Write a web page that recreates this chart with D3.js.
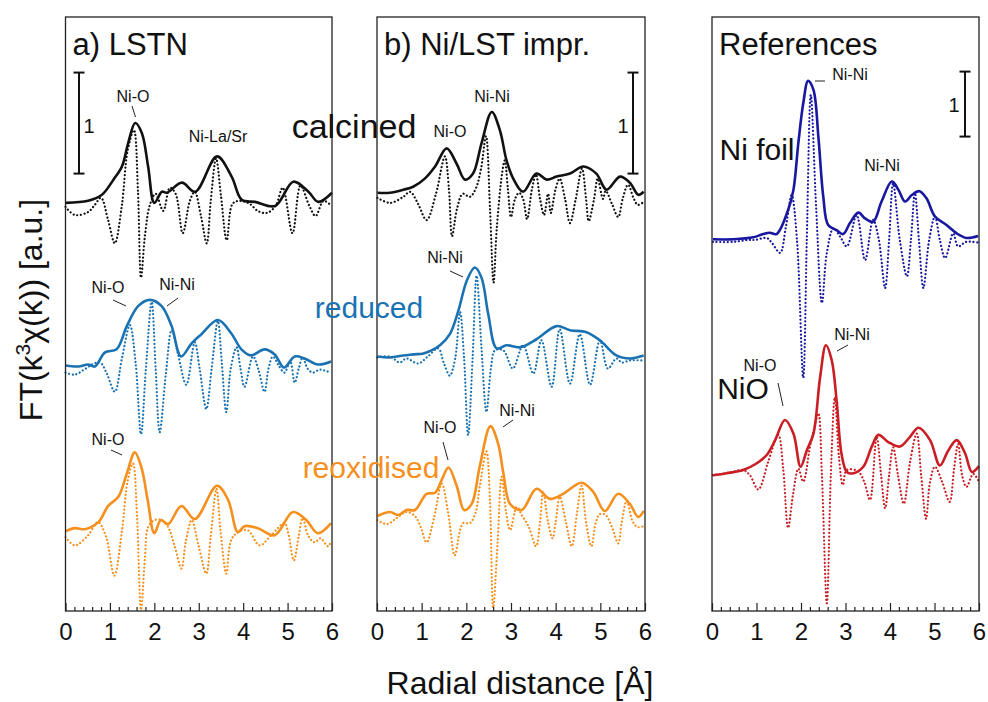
<!DOCTYPE html>
<html>
<head>
<meta charset="utf-8">
<script src="https://cdn.jsdelivr.net/npm/d3@7"></script>
<style>
body { margin: 0; background: #fff; }
text { font-family: "Liberation Sans", Arial, sans-serif; fill: #111; }
</style>
</head>
<body>
<svg id="chart" width="988" height="702"></svg>
<script>
// ---- data: [R (Angstrom), FT value (a.u.)], magnitude (solid) and imaginary part (dotted) ----
var lstnCalcinedMag = [[0.00,0.03],[0.51,0.05],[0.82,0.11],[1.08,0.26],[1.27,0.39],[1.41,0.62],[1.57,0.82],[1.72,0.72],[1.86,0.39],[2.00,0.03],[2.17,0.14],[2.28,0.13],[2.62,0.23],[2.92,0.14],[3.41,0.49],[3.74,0.29],[3.97,0.06],[4.27,0.04],[4.72,0.00],[5.13,0.24],[5.47,0.14],[5.69,0.04],[6.00,0.13]];
var lstnCalcinedIm = [[0.00,-0.01],[0.21,-0.09],[0.51,-0.06],[0.66,0.01],[0.80,0.08],[0.96,-0.14],[1.11,-0.37],[1.27,0.01],[1.40,0.55],[1.54,0.75],[1.63,0.16],[1.70,-0.71],[1.79,-0.29],[1.90,0.01],[2.03,0.12],[2.20,-0.05],[2.35,0.18],[2.48,0.12],[2.64,-0.27],[2.80,0.05],[2.91,0.14],[3.05,-0.10],[3.18,-0.37],[3.27,0.05],[3.39,0.47],[3.50,0.10],[3.63,-0.34],[3.76,0.02],[3.92,0.05],[4.15,0.02],[4.33,-0.05],[4.53,-0.07],[4.73,0.00],[4.89,0.18],[5.11,-0.27],[5.29,0.20],[5.49,0.00],[5.63,-0.10],[5.81,0.05],[5.99,0.00]];
var lstnReducedMag = [[0.00,0.03],[0.29,0.02],[0.51,0.04],[0.66,0.02],[0.89,0.16],[1.15,0.19],[1.38,0.42],[1.64,0.62],[1.90,0.68],[2.16,0.62],[2.39,0.42],[2.60,0.12],[2.84,0.25],[3.06,0.34],[3.43,0.48],[3.73,0.35],[3.96,0.19],[4.18,0.13],[4.48,0.19],[4.71,0.14],[4.92,0.01],[5.16,0.12],[5.38,0.10],[5.68,0.04],[5.98,0.07]];
var lstnReducedIm = [[0.00,-0.04],[0.21,-0.06],[0.42,-0.01],[0.60,0.04],[0.78,0.06],[0.93,-0.05],[1.11,-0.23],[1.27,0.10],[1.45,0.43],[1.58,0.05],[1.70,-0.65],[1.81,0.00],[1.94,0.66],[2.03,0.00],[2.12,-0.63],[2.26,-0.05],[2.39,0.38],[2.53,0.15],[2.72,-0.16],[2.91,0.26],[3.02,0.00],[3.17,-0.40],[3.29,0.00],[3.43,0.47],[3.52,0.05],[3.62,-0.43],[3.72,0.00],[3.85,0.21],[3.94,0.00],[4.03,-0.18],[4.22,0.12],[4.35,-0.02],[4.48,-0.23],[4.57,0.00],[4.67,0.12],[4.80,0.03],[4.93,-0.04],[5.06,0.07],[5.16,-0.14],[5.25,0.00],[5.34,0.11],[5.45,0.00],[5.57,-0.04],[5.72,-0.01],[5.83,-0.02],[5.98,-0.04]];
var lstnReoxMag = [[0.00,0.05],[0.21,0.08],[0.44,0.07],[0.74,0.14],[0.96,0.30],[1.19,0.39],[1.38,0.62],[1.56,0.83],[1.71,0.68],[1.85,0.36],[2.00,0.03],[2.15,0.16],[2.31,0.12],[2.61,0.30],[2.91,0.17],[3.41,0.50],[3.66,0.36],[3.88,0.04],[4.03,0.10],[4.33,0.08],[4.71,0.01],[5.12,0.24],[5.42,0.16],[5.68,0.03],[5.98,0.13]];
var lstnReoxIm = [[0.00,-0.01],[0.21,-0.09],[0.51,0.01],[0.73,0.14],[0.91,0.00],[1.10,-0.39],[1.27,0.05],[1.40,0.55],[1.52,0.72],[1.61,0.20],[1.70,-0.73],[1.79,-0.20],[1.86,0.09],[2.01,0.16],[2.15,0.16],[2.30,0.10],[2.46,-0.10],[2.61,-0.32],[2.71,-0.05],[2.84,0.16],[3.00,-0.10],[3.17,-0.37],[3.27,0.00],[3.40,0.47],[3.49,0.05],[3.62,-0.37],[3.72,-0.05],[3.85,0.03],[4.10,0.06],[4.37,-0.09],[4.63,0.01],[4.93,0.13],[5.02,0.02],[5.14,-0.24],[5.25,0.00],[5.34,0.18],[5.47,0.00],[5.61,-0.06],[5.74,-0.02],[5.91,-0.10],[5.98,-0.05]];

var imprCalcinedMag = [[0.01,0.06],[0.29,0.06],[0.59,0.09],[0.81,0.12],[1.07,0.20],[1.30,0.32],[1.56,0.50],[1.78,0.35],[1.97,0.19],[2.15,0.25],[2.34,0.55],[2.57,0.86],[2.75,0.68],[2.90,0.38],[3.05,0.20],[3.27,0.07],[3.57,0.25],[3.80,0.19],[4.02,0.22],[4.32,0.25],[4.62,0.32],[4.91,0.25],[5.14,0.09],[5.44,0.22],[5.66,0.16],[5.85,0.04],[5.97,0.07]];
var imprCalcinedIm = [[0.01,0.01],[0.29,-0.04],[0.59,0.02],[0.74,0.07],[0.92,-0.05],[1.11,-0.21],[1.32,0.05],[1.52,0.42],[1.61,0.10],[1.68,-0.37],[1.79,-0.10],[1.92,0.05],[2.08,0.02],[2.21,0.10],[2.33,0.30],[2.44,0.62],[2.53,-0.10],[2.61,-0.83],[2.68,-0.30],[2.80,0.25],[2.86,0.38],[2.93,0.10],[3.00,-0.18],[3.09,0.00],[3.18,0.06],[3.27,0.00],[3.36,-0.20],[3.47,0.10],[3.56,0.24],[3.65,0.00],[3.74,-0.16],[3.83,0.05],[3.89,-0.14],[4.00,0.10],[4.09,0.20],[4.21,0.00],[4.32,-0.24],[4.45,0.00],[4.59,0.30],[4.68,0.00],[4.74,-0.22],[4.86,0.00],[4.94,0.20],[5.06,0.00],[5.12,0.08],[5.26,-0.05],[5.40,-0.18],[5.50,0.00],[5.62,0.14],[5.75,0.00],[5.84,-0.06],[5.97,-0.03]];
var imprReducedMag = [[0.01,0.02],[0.29,0.01],[0.59,0.03],[0.81,0.04],[1.04,0.05],[1.22,0.08],[1.41,0.13],[1.63,0.24],[1.82,0.47],[2.01,0.77],[2.19,0.90],[2.34,0.80],[2.49,0.44],[2.68,0.10],[2.90,0.13],[3.20,0.11],[3.57,0.19],[4.02,0.32],[4.32,0.28],[4.69,0.26],[4.99,0.18],[5.36,0.03],[5.66,0.00],[5.97,0.03]];
var imprReducedIm = [[0.01,0.01],[0.29,0.02],[0.51,-0.04],[0.66,0.00],[0.92,-0.05],[1.14,0.02],[1.37,0.10],[1.50,-0.05],[1.63,-0.17],[1.75,0.00],[1.86,0.46],[1.95,0.00],[2.04,-0.76],[2.14,0.00],[2.23,0.82],[2.34,0.10],[2.45,-0.53],[2.55,-0.10],[2.64,0.08],[2.83,0.08],[3.04,-0.10],[3.27,0.13],[3.50,-0.15],[3.68,0.18],[3.91,-0.28],[4.09,0.29],[4.32,-0.25],[4.54,0.24],[4.77,-0.26],[4.99,0.18],[5.17,-0.10],[5.36,0.00],[5.48,-0.04],[5.66,-0.02],[5.97,-0.02]];
var imprReoxMag = [[0.01,0.06],[0.29,0.10],[0.48,0.07],[0.66,0.12],[0.85,0.12],[1.11,0.28],[1.30,0.29],[1.45,0.42],[1.60,0.54],[1.79,0.35],[1.95,0.12],[2.12,0.18],[2.30,0.55],[2.54,0.95],[2.71,0.78],[2.83,0.48],[2.98,0.18],[3.24,0.12],[3.57,0.33],[3.87,0.23],[4.17,0.28],[4.58,0.39],[4.84,0.30],[5.10,0.11],[5.40,0.28],[5.66,0.18],[5.85,0.05],[5.97,0.11]];
var imprReoxIm = [[0.01,0.02],[0.22,-0.02],[0.44,0.04],[0.66,0.10],[0.85,0.06],[0.98,-0.05],[1.11,-0.20],[1.28,0.05],[1.45,0.38],[1.59,0.10],[1.74,-0.33],[1.86,-0.08],[1.93,-0.01],[2.08,-0.01],[2.21,0.10],[2.30,0.35],[2.45,0.70],[2.53,0.20],[2.60,-0.85],[2.70,-0.20],[2.79,0.45],[2.89,0.10],[2.98,-0.08],[3.13,0.15],[3.24,0.07],[3.40,-0.05],[3.56,-0.24],[3.65,0.00],[3.72,0.30],[3.83,0.00],[3.93,-0.16],[4.00,0.00],[4.09,0.25],[4.23,0.00],[4.36,-0.24],[4.48,0.10],[4.58,0.36],[4.68,0.00],[4.80,-0.24],[4.90,0.00],[4.99,0.08],[5.12,0.07],[5.26,-0.05],[5.40,-0.21],[5.48,0.00],[5.59,0.21],[5.73,0.00],[5.84,-0.05],[5.97,-0.04]];

var niFoilMag = [[0.02,0.01],[0.48,0.01],[0.93,0.04],[1.15,0.09],[1.30,0.11],[1.45,0.09],[1.71,0.46],[1.83,0.77],[1.94,1.49],[2.05,2.10],[2.16,2.45],[2.28,2.31],[2.39,1.59],[2.50,0.67],[2.61,0.23],[2.80,0.15],[2.95,0.09],[3.10,0.26],[3.29,0.42],[3.44,0.33],[3.62,0.28],[3.81,0.59],[4.04,0.90],[4.19,0.77],[4.34,0.59],[4.49,0.69],[4.66,0.75],[4.82,0.64],[5.01,0.36],[5.27,0.23],[5.50,0.10],[5.72,0.03],[5.98,0.06]];
var niFoilIm = [[0.02,-0.03],[0.48,-0.03],[0.81,0.00],[0.97,0.00],[1.23,0.03],[1.35,-0.05],[1.53,-0.20],[1.66,0.20],[1.79,0.69],[1.91,0.00],[2.05,-2.12],[2.13,0.00],[2.22,2.23],[2.34,0.50],[2.47,-0.97],[2.58,-0.20],[2.73,0.18],[2.88,0.05],[3.03,-0.10],[3.25,0.38],[3.44,-0.31],[3.62,0.31],[3.75,0.00],[3.89,-0.74],[3.98,0.00],[4.07,0.87],[4.22,0.00],[4.38,-0.56],[4.47,0.00],[4.56,0.72],[4.65,0.00],[4.75,-0.74],[4.88,0.00],[5.01,0.36],[5.12,0.00],[5.24,-0.28],[5.42,0.10],[5.53,-0.10],[5.71,-0.03],[5.98,-0.04]];
var nioMag = [[0.02,0.00],[0.33,0.03],[0.70,0.08],[1.00,0.18],[1.23,0.31],[1.42,0.54],[1.64,0.85],[1.83,0.64],[1.99,0.13],[2.13,0.38],[2.28,0.64],[2.43,1.51],[2.56,2.00],[2.69,1.77],[2.80,1.15],[2.91,0.33],[3.03,0.05],[3.18,0.03],[3.40,0.13],[3.59,0.44],[3.74,0.62],[3.96,0.51],[4.22,0.44],[4.45,0.59],[4.64,0.73],[4.90,0.54],[5.12,0.15],[5.31,0.38],[5.50,0.54],[5.69,0.33],[5.84,0.05],[6.00,0.14]];
var nioIm = [[0.02,0.00],[0.40,0.04],[0.70,0.08],[0.85,0.00],[1.04,-0.22],[1.26,0.20],[1.49,0.62],[1.60,0.10],[1.71,-0.81],[1.82,-0.30],[1.94,0.10],[2.05,-0.10],[2.20,0.43],[2.29,0.70],[2.39,0.95],[2.47,0.00],[2.58,-1.97],[2.67,0.00],[2.76,1.20],[2.85,0.30],[2.94,-0.15],[3.03,0.08],[3.28,0.06],[3.42,-0.10],[3.55,-0.38],[3.70,0.59],[3.80,0.00],[3.89,-0.51],[3.98,0.00],[4.07,0.43],[4.18,0.00],[4.31,-0.44],[4.45,0.20],[4.60,0.64],[4.70,0.00],[4.81,-0.67],[4.90,-0.10],[5.01,0.13],[5.17,-0.10],[5.34,-0.41],[5.44,0.10],[5.53,0.48],[5.62,0.00],[5.72,-0.18],[5.87,0.02],[6.00,-0.10]];

var xMajorTicks = [0, 1, 2, 3, 4, 5, 6];

var black = "#111", blue = "#1b72b2", orange = "#f5901e", navy = "#1717a0", red = "#c81e24";

var plotTop = 17, plotBottom = 611;

var panels = [
    { left: 65.5, right: 332, yMax: 5.88, title: "a) LSTN", barX: 79, barTop: 5.33, oneX: 89, oneY: 133,
      series: [
          { mag: lstnCalcinedMag, im: lstnCalcinedIm, offset: 4.01, color: black },
          { mag: lstnReducedMag, im: lstnReducedIm, offset: 2.40, color: blue },
          { mag: lstnReoxMag, im: lstnReoxIm, offset: 0.74, color: orange }
      ],
      notes: [
          { t: "Ni-O", x: 133, y: 102, line: [132, 106, 135.5, 117] },
          { t: "Ni-La/Sr", x: 218, y: 142 },
          { t: "Ni-O", x: 108, y: 293, line: [113, 300, 126, 306] },
          { t: "Ni-Ni", x: 177, y: 290, line: [167, 306, 178, 298] },
          { t: "Ni-O", x: 108, y: 445, line: [111, 450, 122, 455] }
      ] },
    { left: 377, right: 645, yMax: 5.88, title: "b) Ni/LST impr.", barX: 633, barTop: 5.33, oneX: 623, oneY: 133,
      series: [
          { mag: imprCalcinedMag, im: imprCalcinedIm, offset: 4.08, color: black },
          { mag: imprReducedMag, im: imprReducedIm, offset: 2.50, color: blue },
          { mag: imprReoxMag, im: imprReoxIm, offset: 0.88, color: orange }
      ],
      notes: [
          { t: "Ni-O", x: 450, y: 137 },
          { t: "Ni-Ni", x: 492, y: 102 },
          { t: "Ni-Ni", x: 445, y: 263, line: [450, 271, 463, 277] },
          { t: "Ni-O", x: 440, y: 433, line: [443, 442, 448, 460] },
          { t: "Ni-Ni", x: 517, y: 416, line: [503, 427, 513, 420] }
      ] },
    { left: 712, right: 979, yMax: 9.14, title: "References", barX: 965, barTop: 8.30, oneX: 954, oneY: 112,
      series: [
          { mag: niFoilMag, im: niFoilIm, offset: 5.71, color: navy },
          { mag: nioMag, im: nioIm, offset: 2.09, color: red }
      ],
      notes: [
          { t: "Ni-Ni", x: 850, y: 80, line: [815, 81, 825, 81] },
          { t: "Ni-Ni", x: 882, y: 171 },
          { t: "Ni-Ni", x: 852, y: 340, line: [837, 351, 848, 345] },
          { t: "Ni-O", x: 760, y: 371, line: [778, 383, 783, 406] }
      ] }
];

var bigLabels = [
    { t: "calcined", x: 354, y: 138, color: black, size: 34 },
    { t: "reduced", x: 369, y: 318, color: blue, size: 30 },
    { t: "reoxidised", x: 371, y: 478, color: orange, size: 30 },
    { t: "Ni foil", x: 757, y: 160, color: black, size: 30 },
    { t: "NiO", x: 743, y: 399, color: black, size: 30 }
];

var svg = d3.select("#chart");

panels.forEach(function (p) {
    var x = d3.scaleLinear().domain([0, 6]).range([p.left, p.right]);
    var y = d3.scaleLinear().domain([0, p.yMax]).range([plotBottom, plotTop]);
    var g = svg.append("g");

    // curves: dotted imaginary part under the solid magnitude
    p.series.forEach(function (s) {
        var line = d3.line()
            .x(function (d) { return x(d[0]); })
            .y(function (d) { return y(s.offset + d[1]); })
            .curve(d3.curveCatmullRom.alpha(0.5));
        g.append("path").datum(s.im)
            .attr("d", line)
            .attr("fill", "none")
            .attr("stroke", s.color)
            .attr("stroke-width", 2.2)
            .attr("stroke-linecap", "round")
            .attr("stroke-dasharray", "0.1 3.6");
        g.append("path").datum(s.mag)
            .attr("d", line)
            .attr("fill", "none")
            .attr("stroke", s.color)
            .attr("stroke-width", 2.6)
            .attr("stroke-linejoin", "round");
    });

    // frame
    g.append("rect")
        .attr("x", p.left).attr("y", plotTop)
        .attr("width", p.right - p.left).attr("height", plotBottom - plotTop)
        .attr("fill", "none").attr("stroke", "#222").attr("stroke-width", 1.3);

    // bottom axis, ticks pointing inwards
    var minor = d3.range(0, 6.001, 0.2).filter(function (v) { return Math.abs(v - Math.round(v)) > 0.01; });
    var minorAxis = g.append("g").attr("transform", "translate(0," + plotBottom + ")")
        .call(d3.axisBottom(x).tickValues(minor).tickSize(-4).tickFormat(""));
    var majorAxis = g.append("g").attr("transform", "translate(0," + plotBottom + ")")
        .call(d3.axisBottom(x).tickValues(xMajorTicks).tickSize(-8).tickPadding(12).tickFormat(d3.format("d")));
    [minorAxis, majorAxis].forEach(function (a) {
        a.select(".domain").remove();
        a.selectAll("line").attr("stroke", "#222").attr("stroke-width", 1.2);
    });
    majorAxis.selectAll("text")
        .style("font-family", "'Liberation Sans', Arial, sans-serif")
        .style("font-size", "24px").attr("fill", "#111");

    // title
    g.append("text").attr("x", p.left + 7).attr("y", 55)
        .style("font-size", "31px").text(p.title);

    // scale bar of 1 a.u.
    var y0 = y(p.barTop), y1 = y(p.barTop - 1);
    g.append("line").attr("x1", p.barX).attr("x2", p.barX).attr("y1", y0).attr("y2", y1)
        .attr("stroke", "#111").attr("stroke-width", 2);
    [y0, y1].forEach(function (yy) {
        g.append("line").attr("x1", p.barX - 5.5).attr("x2", p.barX + 5.5).attr("y1", yy).attr("y2", yy)
            .attr("stroke", "#111").attr("stroke-width", 2);
    });
    g.append("text").attr("x", p.oneX).attr("y", p.oneY).attr("text-anchor", "middle")
        .style("font-size", "20px").text("1");

    // peak labels
    p.notes.forEach(function (n) {
        g.append("text").attr("x", n.x).attr("y", n.y).attr("text-anchor", "middle")
            .style("font-size", "16px").text(n.t);
        if (n.line) {
            g.append("line").attr("x1", n.line[0]).attr("y1", n.line[1])
                .attr("x2", n.line[2]).attr("y2", n.line[3])
                .attr("stroke", "#222").attr("stroke-width", 1);
        }
    });
});

bigLabels.forEach(function (b) {
    svg.append("text").attr("x", b.x).attr("y", b.y).attr("text-anchor", "middle")
        .style("font-size", b.size + "px").style("fill", b.color).text(b.t);
});

// axis titles
svg.append("text").attr("x", 520).attr("y", 694).attr("text-anchor", "middle")
    .style("font-size", "32px").text("Radial distance [Å]");

var yTitle = svg.append("text")
    .attr("transform", "translate(42,310) rotate(-90)")
    .attr("text-anchor", "middle")
    .style("font-size", "32px");
yTitle.append("tspan").text("FT(k");
yTitle.append("tspan").attr("dy", -12).style("font-size", "21px").text("3");
yTitle.append("tspan").attr("dy", 12).text("χ(k)) [a.u.]");
</script>
</body>
</html>
